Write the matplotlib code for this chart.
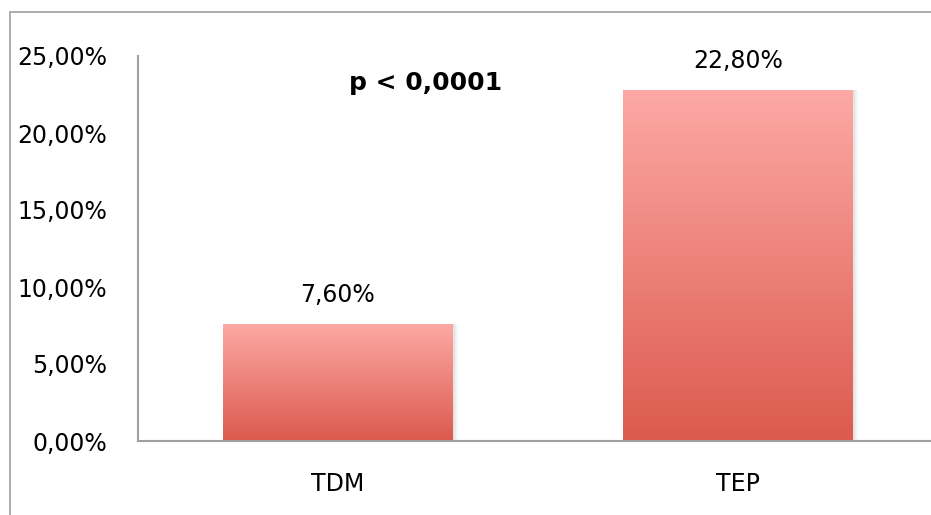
import numpy as np
import matplotlib.pyplot as plt
from matplotlib.colors import LinearSegmentedColormap
from matplotlib.patches import Rectangle

categories = ['TDM', 'TEP']
values = [7.60, 22.80]
value_labels = ['7,60%', '22,80%']
ytick_values = [0, 5, 10, 15, 20, 25]
ytick_labels = ['0,00%', '5,00%', '10,00%', '15,00%', '20,00%', '25,00%']
annotation = 'p < 0,0001'


def main():
    plt.rcParams['font.family'] = ['DejaVu Sans']
    fig = plt.figure(figsize=(9.31, 5.15), dpi=100)
    W, H = 931, 515
    ax = fig.add_axes([138 / W, (H - 441) / H, 800 / W, (441 - 56) / H])

    x = np.arange(len(categories))
    bars = ax.bar(x, values, width=0.575, color='none', edgecolor='none', zorder=2)

    cmap = LinearSegmentedColormap.from_list('red_grad', ['#dc5a4e', '#fda9a5'])
    grad = np.linspace(0, 1, 256).reshape(-1, 1)
    for b in bars:
        x0, w, h = b.get_x(), b.get_width(), b.get_height()
        # soft shadow on the right side
        for k, c in enumerate(['#e4e4e4', '#eeeeee', '#f6f6f6']):
            ax.add_patch(Rectangle((x0 + w + k * 0.004, 0), 0.004, h, color=c, zorder=1, lw=0))
        im = ax.imshow(grad, cmap=cmap, origin='lower', aspect='auto',
                       extent=(x0, x0 + w, 0, h), zorder=2)
        im.set_clip_path(b)

    for i, v in enumerate(values):
        ax.annotate(value_labels[i], (x[i], v), xytext=(0, 21), textcoords='offset points',
                    ha='center', va='center', fontsize=17)

    ax.text(0.22, 23.25, annotation, ha='center', va='center', fontsize=18, fontweight='bold')

    ax.set_xlim(-0.5, 1.5)
    ax.set_ylim(0, 25)
    ax.set_xticks(x)
    ax.set_xticklabels(categories, fontsize=17)
    ax.set_yticks(ytick_values)
    ax.set_yticklabels(ytick_labels, fontsize=17)
    ax.tick_params(length=0)
    ax.tick_params(axis='y', pad=22)
    ax.tick_params(axis='x', pad=22)

    for side in ['top', 'right']:
        ax.spines[side].set_visible(False)
    for side in ['left', 'bottom']:
        ax.spines[side].set_color('#a0a0a0')
        ax.spines[side].set_linewidth(1.5)

    # outer chart frame (cut off at right and bottom)
    fig.patches.append(Rectangle((9.5 / W, -0.1), 1.2, 1 - 11.5 / H + 0.1,
                                 transform=fig.transFigure, fill=False,
                                 edgecolor='#a6a6a6', linewidth=1.3))

    fig.savefig('out.png', dpi=100)


if __name__ == '__main__':
    main()
